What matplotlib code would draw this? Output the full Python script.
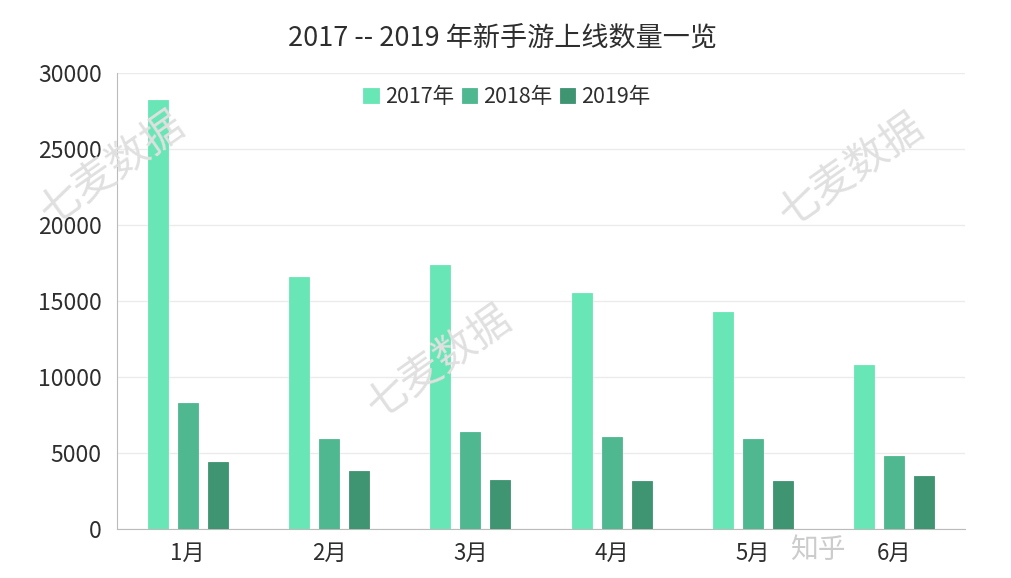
import matplotlib
matplotlib.use("Agg")
import matplotlib.pyplot as plt
import numpy as np

plt.rcParams['font.family'] = ['Noto Sans CJK SC', 'DejaVu Sans']
plt.rcParams['font.weight'] = 'medium'

months = ["1月", "2月", "3月", "4月", "5月", "6月"]
series_names = ["2017年", "2018年", "2019年"]
v2017 = [28200, 16600, 17400, 15550, 14250, 10800]
v2018 = [8300, 5900, 6400, 6050, 5900, 4800]
v2019 = [4400, 3800, 3200, 3180, 3180, 3500]
colors = ["#68e6b6", "#4fb890", "#3f9472"]
yticks = [0, 5000, 10000, 15000, 20000, 25000, 30000]

fig = plt.figure(figsize=(10.12, 5.78), dpi=100)
ax = fig.add_axes([117/1012, 1-529/578, (965-117)/1012, (529-73)/578])

x = np.arange(len(months))
w = 0.142
off = 0.212
for i, (vals, c, name) in enumerate(zip([v2017, v2018, v2019], colors, series_names)):
    ax.bar(x + (i-1)*off, vals, width=w, color=c, label=name, zorder=3,
           edgecolor=c, linewidth=0.6)

ax.set_xlim(-0.5, 5.5)
ax.set_ylim(0, 30000)
ax.set_yticks(yticks)
ax.set_yticklabels([str(t) for t in yticks], fontsize=16.5, color="#2e2e2e")
ax.set_xticks(x)
ax.set_xticklabels(months, fontsize=16, color="#2e2e2e")
ax.tick_params(axis='both', length=0)
ax.tick_params(axis='y', pad=11)
ax.tick_params(axis='x', pad=9)
ax.grid(axis='y', color="#ebebeb", linewidth=1, zorder=0)
for s in ["top", "right"]:
    ax.spines[s].set_visible(False)
ax.spines["left"].set_color("#bbbbbb")
ax.spines["bottom"].set_color("#bbbbbb")

fig.text(0.497, 1-38/578, "2017 -- 2019 年新手游上线数量一览", ha="center", va="center",
         fontsize=19.5, color="#2e2e2e")

leg = ax.legend(loc="center", bbox_to_anchor=(0.46, 1-(97-73)/456), ncol=3, frameon=False,
                fontsize=15.5, handlelength=0.7, handleheight=0.7, handletextpad=0.3,
                columnspacing=0.35, labelcolor="#2e2e2e")

# watermarks
wm_kw = dict(fontsize=30, color="#e0e0e0", rotation=35, ha="center", va="center", zorder=1)
fig.text(113/1012, 1-168/578, "七麦数据", **wm_kw)
fig.text(852/1012, 1-170/578, "七麦数据", **wm_kw)
fig.text(440/1012, 1-362/578, "七麦数据", **wm_kw)
fig.text(818/1012, 1-550/578, "知乎", fontsize=20, color="#cccccc", ha="center", va="center")

fig.savefig("out.png", dpi=100, facecolor="white")
